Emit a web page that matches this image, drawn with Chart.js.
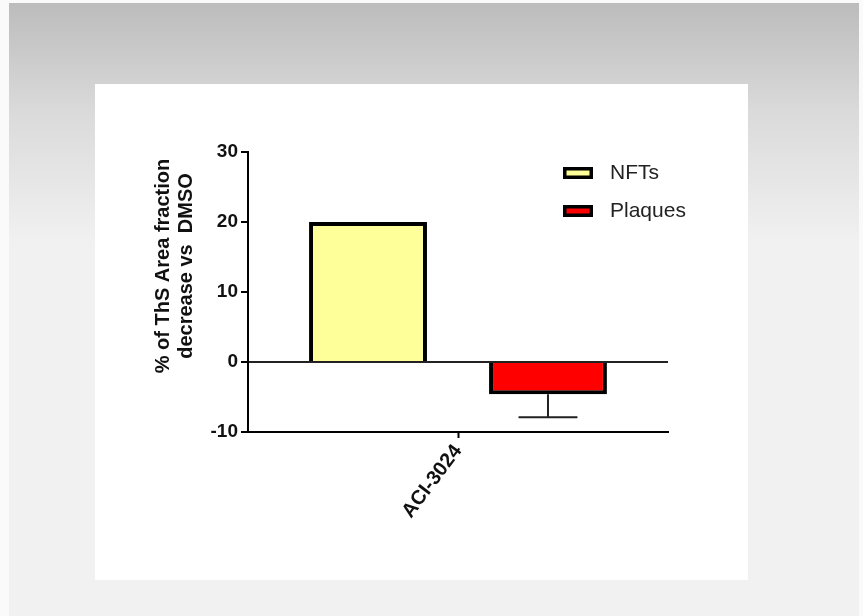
<!DOCTYPE html>
<html>
<head>
<meta charset="utf-8">
<script src="https://cdn.jsdelivr.net/npm/chart.js@4.4.1/dist/chart.umd.min.js"></script>
<style>
  html, body { margin: 0; padding: 0; }
  body { width: 863px; height: 616px; background: #fafafa; position: relative; overflow: hidden; }
  #page { position: absolute; left: 9px; top: 3px; right: 4px; bottom: 0; background: #f1f1f1; }
  #band { position: absolute; left: 0; top: 0; right: 0; height: 240px;
          background: linear-gradient(#bcbcbc, #dadada 45%, #f1f1f1); }
  #panel { position: absolute; left: 95px; top: 84px; width: 653px; height: 496px; background: #fff; }
  #wrap { position: absolute; left: 0; top: 0; width: 863px; height: 616px; }
</style>
</head>
<body>
<div id="page"><div id="band"></div></div>
<div id="panel"></div>
<div id="wrap"><canvas id="chart" width="863" height="616"></canvas></div>
<script>
// données
const categories = ['ACI-3024'];
const seriesNames = ['NFTs', 'Plaques'];
const nftsValues = [20];
const plaquesValues = [-4.6];
const nftsErrors = [0];
const plaquesErrors = [3.3];
const yMin = -10;
const yMax = 30;
const yStep = 10;
const yTitleLines = ['% of ThS Area fraction', 'decrease vs  DMSO'];

const FONT = 'Arial, "Liberation Sans", sans-serif';
const errors = [nftsErrors, plaquesErrors];

// barres d'erreur (vers l'extérieur de la barre)
const errorBarPlugin = {
  id: 'errorBars',
  afterDatasetsDraw(chart) {
    const ctx = chart.ctx;
    const y = chart.scales.y;
    ctx.save();
    ctx.strokeStyle = '#222';
    ctx.lineWidth = 2;
    chart.data.datasets.forEach((ds, i) => {
      chart.getDatasetMeta(i).data.forEach((bar, j) => {
        const err = errors[i][j];
        if (!err) return;
        const v = ds.data[j];
        const end = v < 0 ? v - err : v + err;
        const y1 = y.getPixelForValue(v);
        const y2 = y.getPixelForValue(end);
        const half = bar.width / 4;
        ctx.beginPath();
        ctx.moveTo(bar.x, y1);
        ctx.lineTo(bar.x, y2);
        ctx.moveTo(bar.x - half, y2);
        ctx.lineTo(bar.x + half, y2);
        ctx.stroke();
      });
    });
    ctx.restore();
  }
};

// titre de l'axe Y sur deux lignes
const yTitlePlugin = {
  id: 'yTitle',
  afterDraw(chart) {
    const ctx = chart.ctx;
    const area = chart.chartArea;
    ctx.save();
    ctx.translate(area.left - 74, area.top + 114);
    ctx.rotate(-Math.PI / 2);
    ctx.font = 'bold 20px ' + FONT;
    ctx.fillStyle = '#111';
    ctx.textAlign = 'center';
    ctx.textBaseline = 'middle';
    ctx.fillText(yTitleLines[0], 0, -11);
    ctx.fillText(yTitleLines[1], 0, 12);
    ctx.restore();
  }
};

// légende en haut à droite
const legendPlugin = {
  id: 'cornerLegend',
  afterDraw(chart) {
    const ctx = chart.ctx;
    const area = chart.chartArea;
    ctx.save();
    chart.data.datasets.forEach((ds, i) => {
      const x = area.right - 105;
      const y = area.top + 15 + i * 38;
      ctx.fillStyle = ds.backgroundColor;
      ctx.fillRect(x, y, 30, 12);
      ctx.lineWidth = 3.5;
      ctx.strokeStyle = '#000';
      ctx.strokeRect(x + 1.75, y + 1.75, 26.5, 8.5);
      ctx.font = '21px ' + FONT;
      ctx.fillStyle = '#222';
      ctx.textAlign = 'left';
      ctx.textBaseline = 'middle';
      ctx.fillText(ds.label, x + 47, y + 6);
    });
    ctx.restore();
  }
};

new Chart(document.getElementById('chart'), {
  type: 'bar',
  data: {
    labels: categories,
    datasets: [{
      label: seriesNames[0],
      data: nftsValues,
      backgroundColor: '#ffff99',
      borderColor: '#000',
      borderWidth: 4
    }, {
      label: seriesNames[1],
      data: plaquesValues,
      backgroundColor: '#ff0000',
      borderColor: '#000',
      borderWidth: 4
    }]
  },
  options: {
    responsive: false,
    animation: false,
    events: [],
    categoryPercentage: 0.857,
    barPercentage: 0.655,
    layout: { padding: { left: 188, right: 195, top: 152, bottom: 84 } },
    scales: {
      x: {
        afterFit(scale) { scale.height = 100; },
        border: { display: true, color: '#000', width: 2 },
        grid: { offset: false, drawOnChartArea: false, drawTicks: true, tickLength: 6, tickColor: '#000', tickWidth: 2 },
        ticks: {
          color: '#111',
          font: { family: FONT, size: 20, weight: 'bold' },
          minRotation: 53,
          maxRotation: 53,
          padding: 2
        }
      },
      y: {
        min: yMin,
        max: yMax,
        afterFit(scale) { scale.width = 60; },
        border: { display: true, color: '#000', width: 2 },
        grid: {
          drawOnChartArea: true,
          drawTicks: true,
          tickLength: 7,
          tickColor: '#000',
          tickWidth: 2,
          color: (c) => (c.tick && c.tick.value === 0 ? '#222' : 'rgba(0,0,0,0)'),
          lineWidth: 2
        },
        ticks: {
          stepSize: yStep,
          color: '#111',
          padding: 3,
          font: { family: FONT, size: 19, weight: 'bold' }
        }
      }
    },
    plugins: {
      legend: { display: false },
      tooltip: { enabled: false }
    }
  },
  plugins: [errorBarPlugin, yTitlePlugin, legendPlugin]
});
</script>
</body>
</html>
